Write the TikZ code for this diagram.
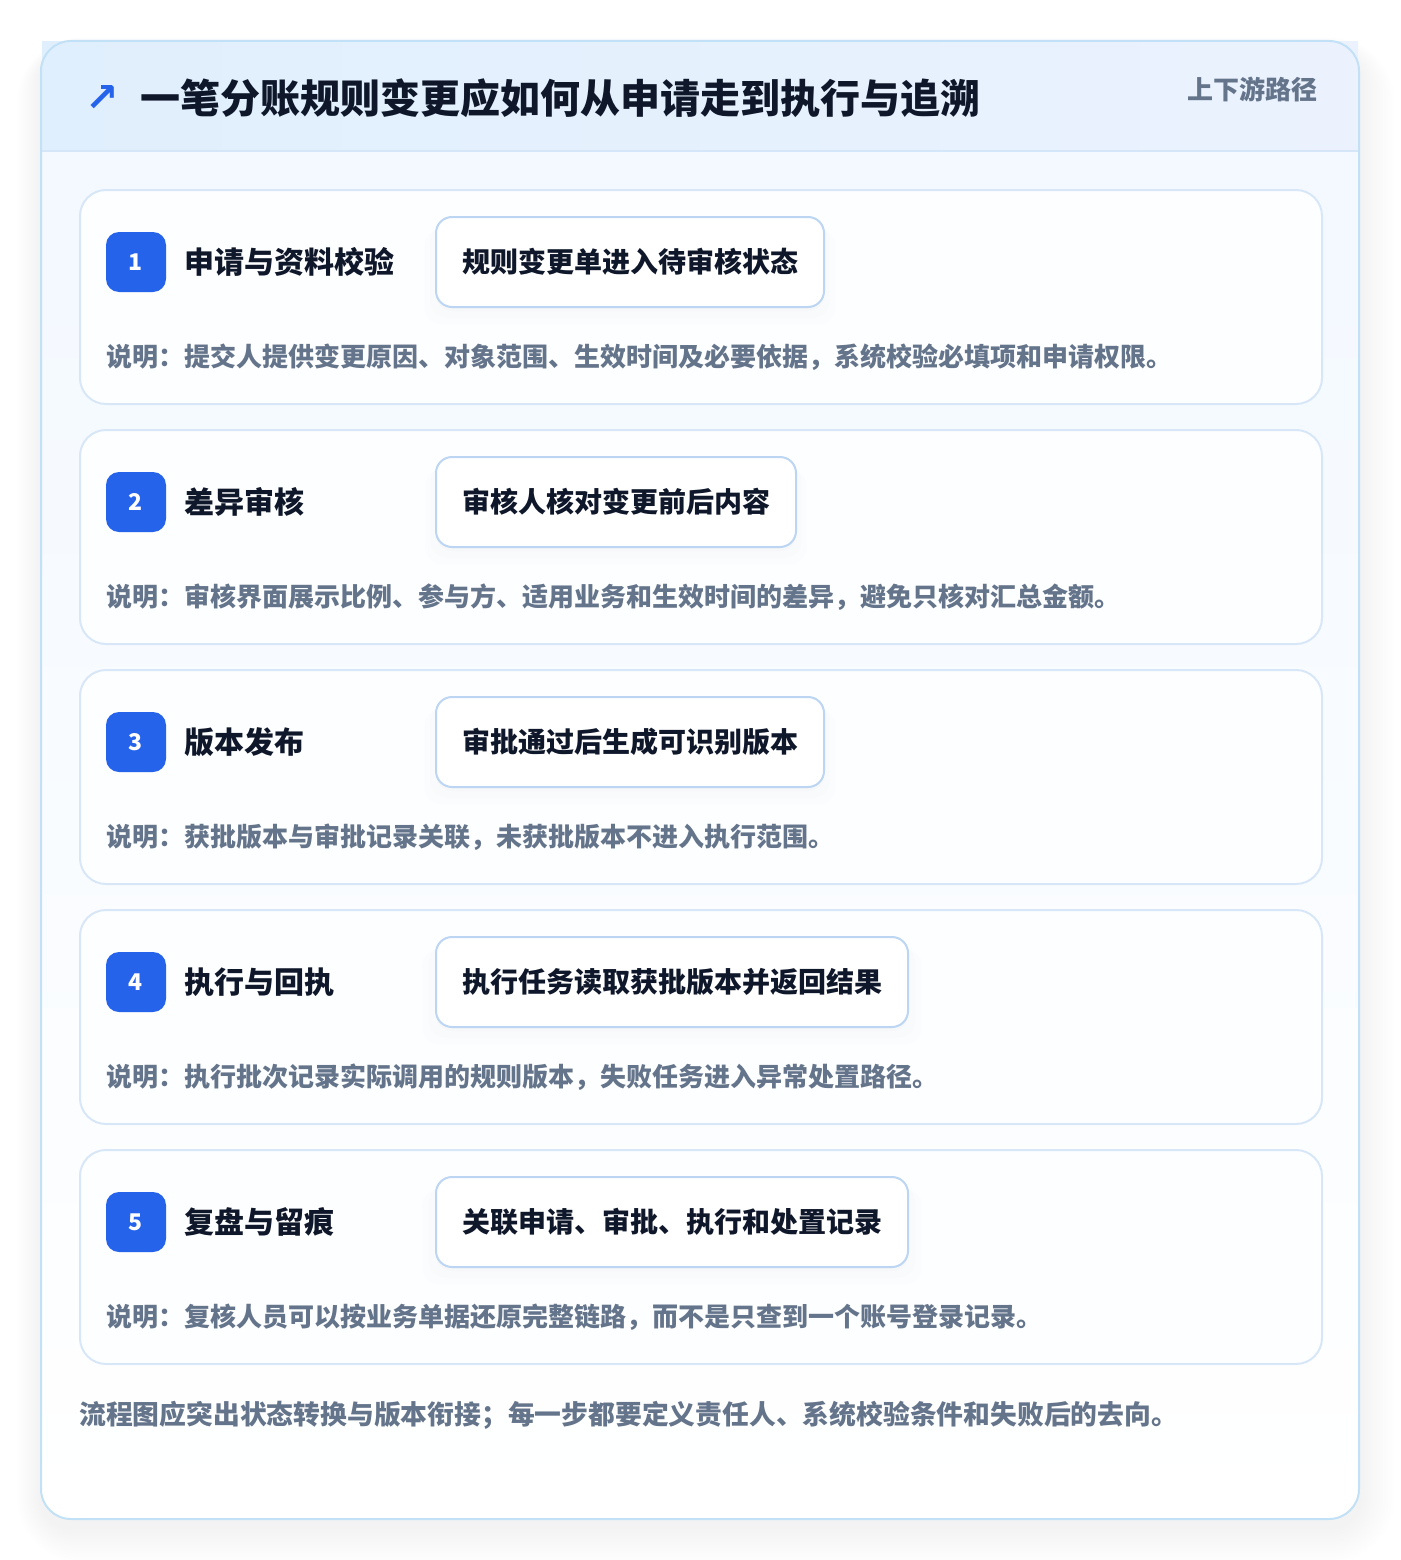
\documentclass[tikz,border=0pt]{standalone}
\usepackage{fontspec}
\setmainfont{Noto Sans CJK SC}
\newfontfamily\symfont{DejaVu Sans}
\usetikzlibrary{shadows}
\definecolor{bluebadge}{HTML}{2563EB}
\definecolor{darktext}{HTML}{0F172A}
\definecolor{greytext}{HTML}{64748B}
\definecolor{outerborder}{HTML}{C2E1F6}
\definecolor{cardborder}{HTML}{D8E7F8}
\definecolor{boxborder}{HTML}{BCD5F3}
\definecolor{hdrL}{HTML}{E0EFFD}
\definecolor{hdrR}{HTML}{EBF2FE}
\definecolor{hdrline}{HTML}{D4E6F8}
\definecolor{cardtop}{HTML}{F2F8FF}
\definecolor{stepfill}{HTML}{FDFEFF}
\tikzset{
  stepcard/.style={draw=cardborder, line width=2pt, fill=stepfill, rounded corners=26pt, inner sep=0pt},
  badge/.style={fill=bluebadge, text=white, minimum size=60pt, rounded corners=13pt, inner sep=0pt, font=\bfseries\fontsize{23}{23}\selectfont},
  steptitle/.style={text=darktext, inner sep=0pt, font=\bfseries\fontsize{30}{36}\selectfont},
  statebox/.style={draw=boxborder, line width=2pt, fill=white, rounded corners=16pt, inner xsep=26pt, inner ysep=0pt, minimum height=90pt, text=darktext, font=\bfseries\fontsize{28}{34}\selectfont,
    drop shadow={opacity=0.012, shadow xshift=0pt, shadow yshift=-14pt, shadow scale=1.06},
    drop shadow={opacity=0.015, shadow xshift=0pt, shadow yshift=-9pt, shadow scale=1.03},
    drop shadow={opacity=0.018, shadow xshift=0pt, shadow yshift=-4pt}},
  desctext/.style={text=greytext, inner sep=0pt, font=\bfseries\fontsize{26}{32}\selectfont},
}
\begin{document}
\begin{tikzpicture}[x=1pt,y=-1pt]
\useasboundingbox (0,0) rectangle (1400,1560);
\fill[white] (0,0) rectangle (1400,1560);
% soft shadow of the outer card
\foreach \i [evaluate=\i as \r using 30+3*\i] in {1,...,12}{
  \fill[black, opacity=0.0055, rounded corners=\r pt] (41-2*\i, 49-1*\i) rectangle (1359+3*\i, 1527+3*\i);
}
% outer card
\path[top color=cardtop, bottom color=white, rounded corners=30pt] (41,41) rectangle (1359,1519);
\fill[left color=hdrL, right color=hdrR] (42,42) rectangle (1358,151);
\draw[hdrline, line width=1.5pt] (42,151) -- (1358,151);
\draw[outerborder, line width=2pt, rounded corners=30pt] (41,41) rectangle (1359,1519);
% header texts
\node[text=bluebadge, inner sep=0pt, font=\symfont\bfseries\fontsize{40}{40}\selectfont] (icon) at (102,99) {↗};
\node[anchor=west, text=darktext, inner sep=0pt, font=\bfseries\fontsize{40}{48}\selectfont] (title) at (140,98) {一笔分账规则变更应如何从申请走到执行与追溯};
\node[anchor=east, text=greytext, inner sep=0pt, font=\bfseries\fontsize{26}{30}\selectfont] (tag) at (1318,89) {上下游路径};
% steps
\foreach \n/\t/\b/\d in {
  1/申请与资料校验/规则变更单进入待审核状态/说明：提交人提供变更原因、对象范围、生效时间及必要依据，系统校验必填项和申请权限。,
  2/差异审核/审核人核对变更前后内容/说明：审核界面展示比例、参与方、适用业务和生效时间的差异，避免只核对汇总金额。,
  3/版本发布/审批通过后生成可识别版本/说明：获批版本与审批记录关联，未获批版本不进入执行范围。,
  4/执行与回执/执行任务读取获批版本并返回结果/说明：执行批次记录实际调用的规则版本，失败任务进入异常处置路径。,
  5/复盘与留痕/关联申请、审批、执行和处置记录/说明：复核人员可以按业务单据还原完整链路，而不是只查到一个账号登录记录。}{
  \pgfmathsetmacro{\yy}{262+240*(\n-1)}
  \node[stepcard, minimum width=1242pt, minimum height=214pt, anchor=north west] (card\n) at (79,{189+240*(\n-1)}) {};
  \node[badge] (badge\n) at (136,\yy) {\n};
  \node[steptitle, anchor=west] (title\n) at (184,\yy) {\t};
  \node[statebox, anchor=west] (box\n) at (435,\yy) {\b};
  \node[desctext, anchor=west] (desc\n) at (106,\yy+95) {\d};
}
% footer
\node[anchor=west, text=greytext, inner sep=0pt, font=\bfseries\fontsize{26.8}{32}\selectfont] (footer) at (79,1415) {流程图应突出状态转换与版本衔接；每一步都要定义责任人、系统校验条件和失败后的去向。};
\end{tikzpicture}
\end{document}
